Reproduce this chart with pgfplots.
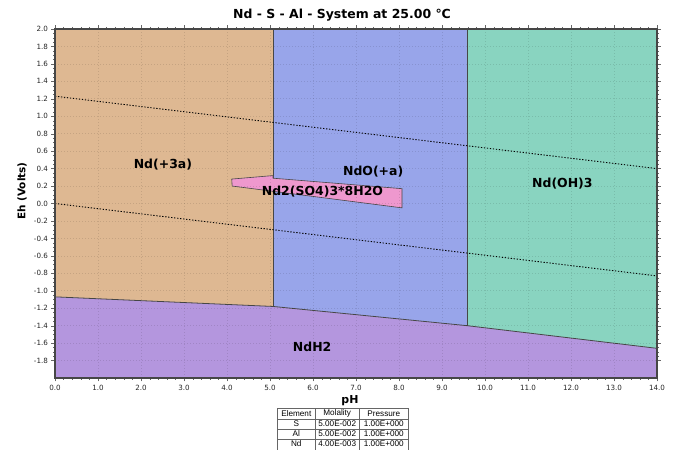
\documentclass[border=0pt]{standalone}
\usepackage{fontspec}
\setmainfont{DejaVu Sans}
\newfontfamily\tablefont{Liberation Sans}
\usepackage{pgfplots}
\pgfplotsset{compat=1.18}

\definecolor{ndthree}{RGB}{222,184,146}
\definecolor{ndo}{RGB}{152,165,234}
\definecolor{ndoh}{RGB}{137,212,192}
\definecolor{ndh}{RGB}{180,150,222}
\definecolor{ndso}{RGB}{238,152,206}
\definecolor{frame}{RGB}{70,70,70}

\begin{document}
\begin{tikzpicture}
\useasboundingbox (-55bp,-72bp) rectangle (622bp,378bp);
\begin{axis}[
  at={(0,0)}, anchor=south west,
  scale only axis, width=602bp, height=349bp,
  xmin=0, xmax=14, ymin=-2, ymax=2,
  xtick={0,1,2,3,4,5,6,7,8,9,10,11,12,13,14},
  ytick={-1.8,-1.6,-1.4,-1.2,-1.0,-0.8,-0.6,-0.4,-0.2,0,0.2,0.4,0.6,0.8,1.0,1.2,1.4,1.6,1.8,2.0},
  minor x tick num=4, minor y tick num=3,
  xticklabel style={/pgf/number format/.cd,fixed,fixed zerofill,precision=1},
  yticklabel style={/pgf/number format/.cd,fixed,fixed zerofill,precision=1},
  /pgf/number format/assume math mode=true,
  ticklabel style={font=\fontsize{7.2}{8}\selectfont, text=black!85},
  tick align=outside,
  major tick length=3.5bp, minor tick length=2bp,
  tick style={black!60},
  grid=major,
  major grid style={black, opacity=0.11, line width=0.6bp, dash pattern=on 1bp off 2bp},
  axis on top,
  axis line style={frame, line width=1.3bp},
]
% stability fields
\addplot[fill=ndthree, draw=none] coordinates {(0,2) (5.07,2) (5.07,-1.18) (0,-1.07)} -- cycle;
\addplot[fill=ndo, draw=none] coordinates {(5.07,2) (9.58,2) (9.58,-1.40) (5.07,-1.18)} -- cycle;
\addplot[fill=ndoh, draw=none] coordinates {(9.58,2) (14,2) (14,-1.66) (9.58,-1.40)} -- cycle;
\addplot[fill=ndh, draw=none] coordinates {(0,-1.07) (5.07,-1.18) (9.58,-1.40) (14,-1.66) (14,-2) (0,-2)} -- cycle;
% field boundaries
\addplot[frame, line width=0.8bp] coordinates {(0,-1.07) (5.07,-1.18) (9.58,-1.40) (14,-1.66)};
\addplot[frame, line width=0.8bp] coordinates {(5.07,2) (5.07,-1.18)};
\addplot[frame, line width=0.8bp] coordinates {(9.58,2) (9.58,-1.40)};
% sulfate hydrate field
\addplot[fill=ndso, draw=frame, line width=0.6bp] coordinates {(4.11,0.28) (5.07,0.32) (5.07,0.29) (8.07,0.17) (8.07,-0.05) (5.07,0.14) (4.12,0.20)} -- cycle;
% water stability limits
\addplot[black, line width=0.9bp, dash pattern=on 1.3bp off 1.7bp] coordinates {(0,1.23) (14,0.40)};
\addplot[black, line width=0.9bp, dash pattern=on 1.3bp off 1.7bp] coordinates {(0,0) (14,-0.83)};
% anchor points for the field names
\coordinate (fA) at (axis cs:2.51,0.45);
\coordinate (fB) at (axis cs:7.40,0.36);
\coordinate (fC) at (axis cs:6.22,0.14);
\coordinate (fD) at (axis cs:11.80,0.23);
\coordinate (fE) at (axis cs:5.98,-1.64);
\end{axis}
% field names, set above the grid
\begin{scope}[every node/.style={font=\bfseries\fontsize{12.5}{13}\selectfont}]
\node at (fA) {Nd(+3a)};
\node at (fB) {NdO(+a)};
\node at (fC) {Nd2(SO4)3*8H2O};
\node at (fD) {Nd(OH)3};
\node at (fE) {NdH2};
\end{scope}
% title and axis names
\node at (287bp,363bp) {\bfseries\fontsize{12.5}{14}\selectfont Nd - S - Al - System at 25.00 °C};
\node at (295bp,-23bp) {\bfseries\fontsize{11}{12}\selectfont pH};
\node[rotate=90] at (-33bp,187bp) {\bfseries\fontsize{10.5}{12}\selectfont Eh (Volts)};
% composition table
\begin{scope}[black!60, line width=0.5bp]
\draw (222.7bp,-30bp) rectangle (353.3bp,-72bp);
\foreach \yy in {-41,-51,-61} \draw (222.7bp,\yy bp) -- (353.3bp,\yy bp);
\draw (260bp,-30bp) -- (260bp,-72bp);
\draw (304.3bp,-30bp) -- (304.3bp,-72bp);
\end{scope}
\begin{scope}[every node/.style={font=\tablefont\fontsize{8.2}{9}\selectfont, inner sep=0pt}]
\node at (241.3bp,-35.5bp) {Element};
\node at (282.2bp,-35.5bp) {Molality};
\node at (328.8bp,-35.5bp) {Pressure};
\node at (241.3bp,-46bp) {S};
\node at (282.2bp,-46bp) {5.00E-002};
\node at (328.8bp,-46bp) {1.00E+000};
\node at (241.3bp,-56bp) {Al};
\node at (282.2bp,-56bp) {5.00E-002};
\node at (328.8bp,-56bp) {1.00E+000};
\node at (241.3bp,-66bp) {Nd};
\node at (282.2bp,-66bp) {4.00E-003};
\node at (328.8bp,-66bp) {1.00E+000};
\end{scope}
\end{tikzpicture}
\end{document}
